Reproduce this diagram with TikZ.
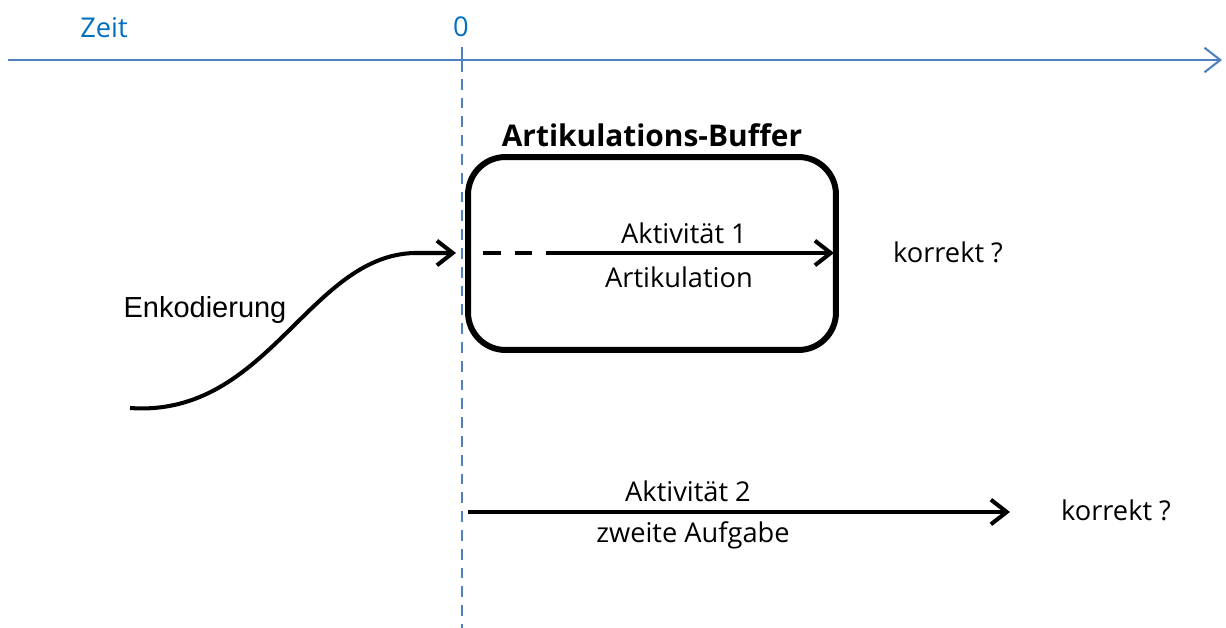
\documentclass[tikz,border=0pt]{standalone}
\usepackage{fontspec}
\setmainfont{Open Sans}
\newfontfamily\arialfont{Liberation Sans}
\usetikzlibrary{arrows.meta}
\definecolor{axisblue}{HTML}{4F81BD}
\definecolor{textblue}{HTML}{0070C0}
\begin{document}
\begin{tikzpicture} [
        x=0.02cm, y=-0.02cm,
        axis/.style={draw=axisblue, line width=1.2pt},
        timeline/.style={draw=axisblue, line width=1.2pt, dash pattern=on 6.2pt off 4.5pt},
        buffer/.style={draw=black, line width=3.4pt, rounded corners=0.75cm, minimum width=7.36cm, minimum height=3.86cm, inner sep=0pt},
        act/.style={draw=black, line width=2.3pt, -{Straight Barb[length=9pt, width=14pt, line width=2.3pt]}},
        label/.style={font=\fontsize{15.5}{18}\selectfont, inner sep=1pt},
        bluelabel/.style={label, text=textblue} ]
    \useasboundingbox (0,0) rectangle (1226,628);

    % time axis
    \coordinate (t0) at (8,60);
    \coordinate (t1) at (1222,60);
    \coordinate (zero) at (462,60);
    \coordinate (zerobottom) at (462,628);
    \draw[axis, -{Straight Barb[length=9pt, width=14pt, line width=1.2pt]}] (t0) -- (t1);
    \draw[axis] (462,47) -- (462,72);
    \draw[timeline] (zero) -- (zerobottom);
    \node[bluelabel] (zeit) at (104,28) {Zeit};
    \node[bluelabel] (null) at (461,27) {0};

    % articulation buffer
    \node[buffer, draw] (box) at (652,253.5) {};
    \node[font=\fontsize{17}{20}\selectfont\bfseries] (title) at (652,135) {Artikulations-Buffer};

    % activity 1
    \coordinate (a1start) at (483,253);
    \coordinate (a1mid) at (548,253);
    \coordinate (a1end) at (834,253);
    \draw[draw=black, line width=2.3pt, dash pattern=on 10pt off 8pt] (a1start) -- (a1mid);
    \draw[act] (a1mid) -- (a1end);
    \node[label] (akt1) at (684,233) {Aktivität 1};
    \node[label] (artik) at (679,277) {Artikulation};
    \node[label] (korr1) at (948,252) {korrekt ?};

    % encoding
    \coordinate (encstart) at (130,408);
    \coordinate (encend) at (456,253);
    \draw[act] (encstart) .. controls (270,418) and (310,250) .. (420,253) -- (encend);
    \node[label, font=\arialfont\fontsize{16.5}{19}\selectfont] (enk) at (205,310) {Enkodierung};

    % activity 2
    \coordinate (a2start) at (468,512);
    \coordinate (a2end) at (1010,512);
    \draw[act] (a2start) -- (a2end);
    \node[label] (akt2) at (688,491) {Aktivität 2};
    \node[label] (zweite) at (693,535) {zweite Aufgabe};
    \node[label] (korr2) at (1116,510) {korrekt ?};
\end{tikzpicture}
\end{document}
